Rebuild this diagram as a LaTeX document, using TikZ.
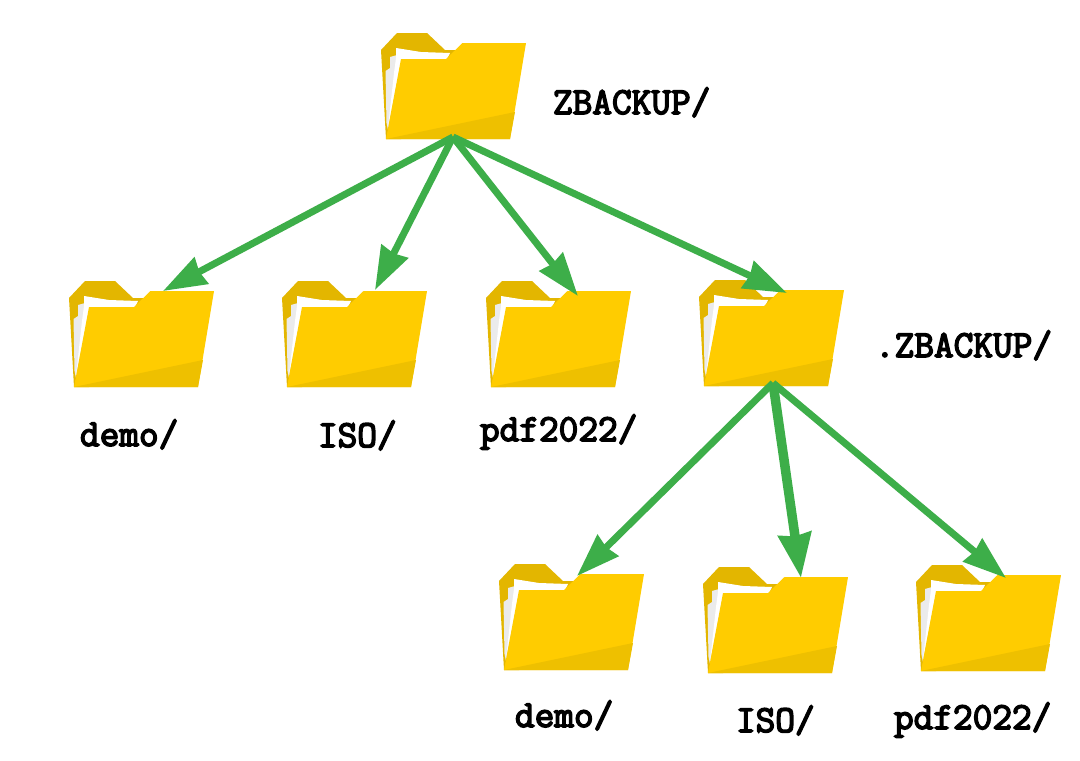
\documentclass[tikz,border=0pt]{standalone}
\usepackage{fontspec}
\newfontfamily\labfont[FakeBold=4]{Latin Modern Mono}
\usetikzlibrary{arrows.meta,calc}
\definecolor{fdark}{HTML}{E3B600}
\definecolor{ffront}{HTML}{FFCC00}
\definecolor{fband}{HTML}{EEC000}
\definecolor{fgrey}{HTML}{EBEBEB}
\definecolor{arrgreen}{HTML}{3DAE49}
\tikzset{
  folderbox/.style={minimum width=145pt,minimum height=106pt,inner sep=0pt,outer sep=0pt,anchor=north west},
  folderart/.pic={
    \fill[fdark] (0,17) -- (16,0) -- (46,0) -- (64,17) -- (82,17) -- (82,40) -- (20,106) -- (5,106) -- cycle;
    \fill[fgrey] (4.5,38) -- (9,35) -- (9,24) -- (16,22) -- (24,27) -- (7,97) -- (5.5,90) -- cycle;
    \fill[white] (15,15) -- (40,19) -- (69,20) -- (65,28) -- (20,28) -- (7,95) -- (13,40) -- (15,25) -- cycle;
    \fill[ffront] (5,106) -- (20,26) -- (65,26) -- (81.5,10) -- (145,10) -- (129,106) -- cycle;
    \fill[fband] (5,106) -- (134,79) -- (129,106) -- cycle;
  },
  lab/.style={font=\fontsize{38.2}{40}\selectfont\labfont,anchor=base west,inner sep=0pt,outer sep=0pt},
  link/.style={arrgreen,line width=7pt,-{Stealth[length=43pt,width=29pt,inset=2pt]}},
  thicklink/.style={arrgreen,line width=9.5pt,-{Stealth[length=44pt,width=32pt,inset=2pt]}}
}
\begin{document}
\begin{tikzpicture}[x=1pt,y=-1pt]
\useasboundingbox (0,0) rectangle (1080,761);
\fill[white] (0,0) rectangle (1080,761);
\node[folderbox] (top) at (381,33) {};
\node[folderbox] (a1) at (69,281) {};
\node[folderbox] (a2) at (282,281) {};
\node[folderbox] (a3) at (486,281) {};
\node[folderbox] (a4) at (699,280) {};
\node[folderbox] (b1) at (499,564) {};
\node[folderbox] (b2) at (703,567) {};
\node[folderbox] (b3) at (916,565) {};
\foreach \f in {top,a1,a2,a3,a4,b1,b2,b3}{\pic at (\f.north west) {folderart};}
\node[lab] (ltop) at (553,114) {ZBACKUP/};
\node[lab] (la1) at (80,446) {demo/};
\node[lab] (la2) at (318,447) {ISO/};
\node[lab] (la3) at (480,441) {pdf2022/};
\node[lab] (la4) at (875,357) {.ZBACKUP/};
\node[lab] (lb1) at (515,727) {demo/};
\node[lab] (lb2) at (736,732) {ISO/};
\node[lab] (lb3) at (894,729) {pdf2022/};
\coordinate (s0) at ($(top.north west)+(72,104)$);
\coordinate (s1) at ($(a4.north west)+(74,103)$);
\draw[link] (s0) -- ($(a1.north west)+(94,10)$);
\draw[link] (s0) -- ($(a2.north west)+(93,9)$);
\draw[link] (s0) -- ($(a3.north west)+(92,15)$);
\draw[link] (s0) -- ($(a4.north west)+(88,13)$);
\draw[link] (s1) -- ($(b1.north west)+(78,12)$);
\draw[thicklink] (s1) -- ($(b2.north west)+(98,11)$);
\draw[link] (s1) -- ($(b3.north west)+(90,13)$);
\end{tikzpicture}
\end{document}
